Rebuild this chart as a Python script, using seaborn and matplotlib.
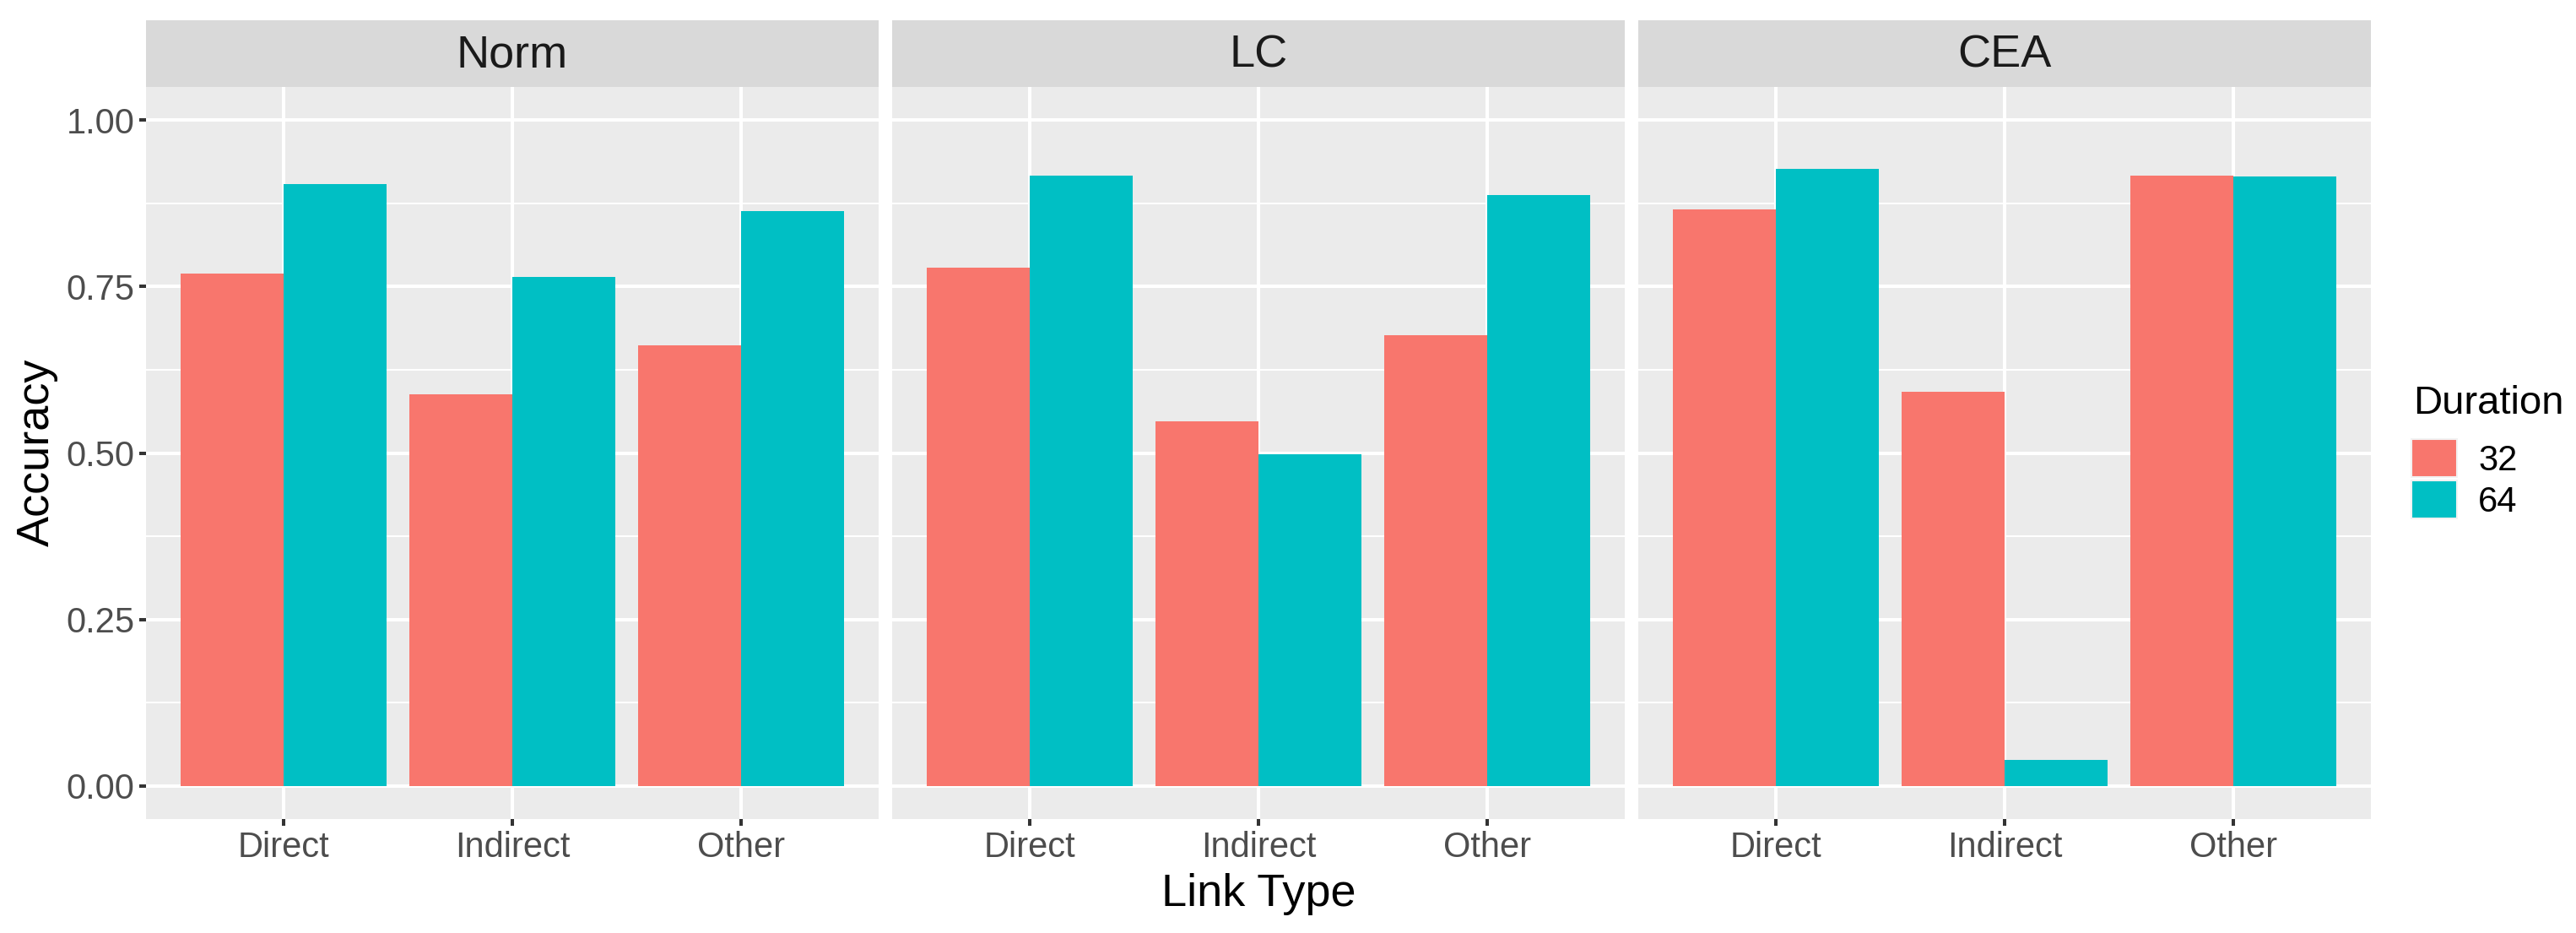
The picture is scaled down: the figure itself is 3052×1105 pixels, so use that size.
import pandas as pd
import seaborn as sns
import matplotlib.pyplot as plt
from matplotlib.patches import Patch

# values
methods = ["Norm", "LC", "CEA"]
link_types = ["Direct", "Indirect", "Other"]
durations = ["32", "64"]

norm_32 = [0.770, 0.588, 0.662]
norm_64 = [0.904, 0.765, 0.864]
lc_32 = [0.779, 0.547, 0.677]
lc_64 = [0.917, 0.498, 0.887]
cea_32 = [0.866, 0.592, 0.917]
cea_64 = [0.927, 0.039, 0.915]

colors = ["#F8766D", "#00BFC4"]

series = {
    ("Norm", "32"): norm_32, ("Norm", "64"): norm_64,
    ("LC", "32"): lc_32, ("LC", "64"): lc_64,
    ("CEA", "32"): cea_32, ("CEA", "64"): cea_64,
}
rows = []
for (m, d), vals in series.items():
    for lt, v in zip(link_types, vals):
        rows.append({"Method": m, "Duration": d, "Link Type": lt, "Accuracy": v})
df = pd.DataFrame(rows)

plt.rcParams["font.family"] = ["Liberation Sans", "DejaVu Sans"]

W, H = 3052, 1105
fig = plt.figure(figsize=(W / 100, H / 100), dpi=100)

def fx(px):
    return px / W

def fy(px):
    return 1 - px / H

panel_left = [173, 1057, 1941]
pw = 868
top, bottom = 103, 970
strip_top = 24

for i, m in enumerate(methods):
    l = panel_left[i]
    ax = fig.add_axes([fx(l), fy(bottom), pw / W, (bottom - top) / H])
    sns.barplot(data=df[df["Method"] == m], x="Link Type", y="Accuracy",
                hue="Duration", order=link_types, hue_order=durations,
                palette=colors, width=0.9, saturation=1, errorbar=None,
                linewidth=0, legend=False, ax=ax)
    ax.set_facecolor("#EBEBEB")
    ax.set_axisbelow(True)
    ax.set_xlim(-0.6, 2.6)
    ax.set_ylim(-0.05, 1.05)
    ax.set_yticks([0, 0.25, 0.5, 0.75, 1.0])
    ax.set_yticks([0.125, 0.375, 0.625, 0.875], minor=True)
    ax.grid(which="major", color="white", linewidth=2.9)
    ax.grid(which="minor", axis="y", color="white", linewidth=1.45)
    for s in ax.spines.values():
        s.set_visible(False)
    ax.set_xlabel("")
    ax.set_ylabel("")
    ax.tick_params(which="major", length=5.8, width=2.9, color="#333333",
                   labelcolor="#4D4D4D", labelsize=30, pad=4)
    ax.tick_params(which="minor", length=0)
    if i == 0:
        ax.set_yticklabels(["0.00", "0.25", "0.50", "0.75", "1.00"])
    else:
        ax.tick_params(axis="y", which="both", left=False, labelleft=False)

    # facet strip
    sax = fig.add_axes([fx(l), fy(top), pw / W, (top - strip_top) / H])
    sax.set_facecolor("#D9D9D9")
    sax.set_xticks([])
    sax.set_yticks([])
    for s in sax.spines.values():
        s.set_visible(False)
    sax.text(0.5, 0.47, m, ha="center", va="center", fontsize=39,
             color="#1A1A1A", transform=sax.transAxes)

fig.text(fx(1491), fy(1073), "Link Type", ha="center", va="baseline",
         fontsize=39, color="black")
fig.text(fx(44), fy(536), "Accuracy", ha="center", va="center",
         rotation=90, fontsize=39, color="black")

# legend: title drawn separately so the gap to the keys matches
fig.text(fx(2859), fy(490), "Duration", ha="left", va="baseline",
         fontsize=34, color="black")
handles = [Patch(facecolor=c, edgecolor="#F2F2F2", linewidth=1.5) for c in colors]
fig.legend(handles=handles, labels=durations,
           loc="upper left", bbox_to_anchor=(fx(2857), fy(520)),
           frameon=False, fontsize=30,
           handlelength=1.3, handleheight=1.3, labelspacing=0.08,
           handletextpad=0.6, borderpad=0, borderaxespad=0)

fig.savefig("out.png", dpi=100)
